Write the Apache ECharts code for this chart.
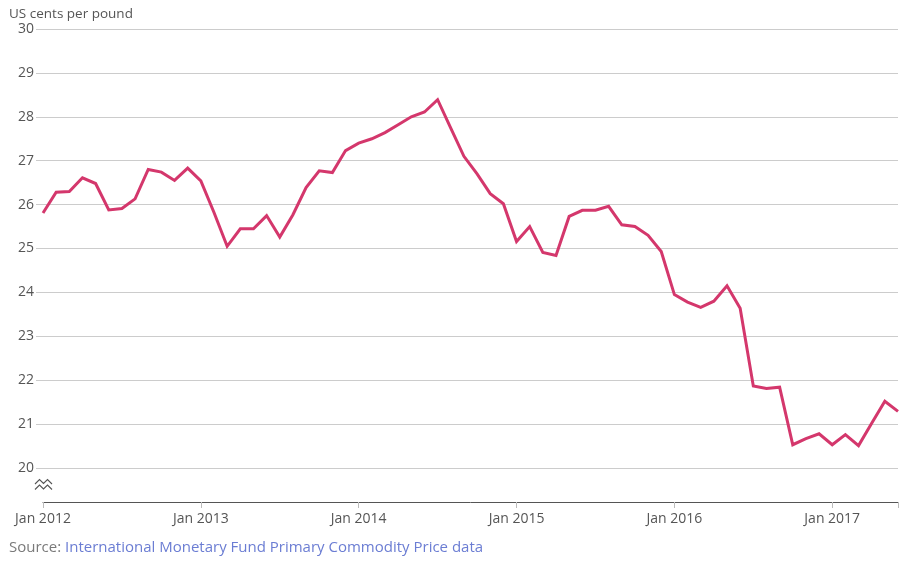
<!DOCTYPE html>
<html>
<head>
<meta charset="utf-8">
<script src="https://cdn.jsdelivr.net/npm/echarts@6/dist/echarts.min.js"></script>
<style>
html,body{margin:0;padding:0;background:#fff;}
#chart{width:915px;height:566px;}
</style>
</head>
<body>
<div id="chart"></div>
<script>
var months = [
  "Jan 2012","Feb 2012","Mar 2012","Apr 2012","May 2012","Jun 2012","Jul 2012","Aug 2012","Sep 2012","Oct 2012","Nov 2012","Dec 2012",
  "Jan 2013","Feb 2013","Mar 2013","Apr 2013","May 2013","Jun 2013","Jul 2013","Aug 2013","Sep 2013","Oct 2013","Nov 2013","Dec 2013",
  "Jan 2014","Feb 2014","Mar 2014","Apr 2014","May 2014","Jun 2014","Jul 2014","Aug 2014","Sep 2014","Oct 2014","Nov 2014","Dec 2014",
  "Jan 2015","Feb 2015","Mar 2015","Apr 2015","May 2015","Jun 2015","Jul 2015","Aug 2015","Sep 2015","Oct 2015","Nov 2015","Dec 2015",
  "Jan 2016","Feb 2016","Mar 2016","Apr 2016","May 2016","Jun 2016","Jul 2016","Aug 2016","Sep 2016","Oct 2016","Nov 2016","Dec 2016",
  "Jan 2017","Feb 2017","Mar 2017","Apr 2017","May 2017","Jun 2017"
];
var prices = [
  25.81, 26.28, 26.30, 26.61, 26.48, 25.88, 25.91, 26.13, 26.80, 26.74, 26.55, 26.83,
  26.54, 25.82, 25.05, 25.45, 25.45, 25.75, 25.26, 25.77, 26.39, 26.77, 26.73, 27.23,
  27.40, 27.50, 27.64, 27.82, 28.00, 28.11, 28.39, 27.74, 27.10, 26.70, 26.25, 26.02,
  25.16, 25.50, 24.91, 24.84, 25.73, 25.87, 25.87, 25.96, 25.54, 25.50, 25.30, 24.93,
  23.95, 23.78, 23.66, 23.80, 24.15, 23.64, 21.87, 21.81, 21.84, 20.53, 20.67, 20.78,
  20.53, 20.76, 20.51, 21.02, 21.52, 21.29
];
var yTicks = {min: 20, max: 30, step: 1};
var unitLabel = "US cents per pound";
var sourcePrefix = "Source: ";
var sourceName = "International Monetary Fund Primary Commodity Price data";

var FONT = "'Open Sans', 'Noto Sans', sans-serif";
var chart = echarts.init(document.getElementById('chart'), null, {renderer: 'canvas'});
var lastIdx = months.length - 1;

chart.setOption({
  animation: false,
  backgroundColor: '#fff',
  textStyle: {fontFamily: FONT},
  title: [
    {text: unitLabel, left: 4, top: 2,
     textStyle: {fontFamily: FONT, fontSize: 13.5, fontWeight: 'normal', color: '#555'}},
    {text: '{a|' + sourcePrefix + '}{b|' + sourceName + '}', left: 4, top: 535,
     textStyle: {fontFamily: FONT, fontSize: 15, fontWeight: 'normal',
       rich: {a: {fontFamily: FONT, fontSize: 15, color: '#7a7a7a'},
              b: {fontFamily: FONT, fontSize: 15, color: '#6b7dd3'}}}}
  ],
  grid: [
    {left: 36, right: 17, top: 29, bottom: 98, containLabel: false},
    {left: 43, right: 17, top: 29, bottom: 98, containLabel: false}
  ],
  xAxis: [
    {gridIndex: 0, type: 'category', data: months, show: false, boundaryGap: false},
    {gridIndex: 1, type: 'category', data: months, boundaryGap: false, offset: 34,
     axisLine: {lineStyle: {color: '#555', width: 1}},
     axisTick: {show: true, length: 6, lineStyle: {color: '#bbb'},
       interval: function (i) { return i % 12 === 0 || i === lastIdx; }},
     axisLabel: {color: '#555', fontSize: 14, fontFamily: FONT, margin: 10,
       interval: function (i) { return i % 12 === 0; }}}
  ],
  yAxis: [
    {gridIndex: 0, type: 'value', min: yTicks.min, max: yTicks.max, interval: yTicks.step,
     axisLine: {show: false}, axisTick: {show: false},
     axisLabel: {color: '#555', fontSize: 14, fontFamily: FONT, margin: 2},
     splitLine: {lineStyle: {color: '#cccccc', width: 1}}},
    {gridIndex: 1, type: 'value', min: yTicks.min, max: yTicks.max, interval: yTicks.step,
     show: false, splitLine: {show: false}}
  ],
  series: [{
    type: 'line', xAxisIndex: 1, yAxisIndex: 1, data: prices,
    showSymbol: false, symbol: 'none',
    lineStyle: {color: '#d4376c', width: 3, join: 'miter'},
    itemStyle: {color: '#d4376c'}
  }],
  graphic: [
    {type: 'polyline', shape: {points: [[35,484],[39.5,479.5],[43.5,483.5],[47.5,479.5],[52,484]]},
     style: {stroke: '#555', lineWidth: 1.1, fill: null}},
    {type: 'polyline', shape: {points: [[35,489.5],[39.5,485],[43.5,489],[47.5,485],[52,489.5]]},
     style: {stroke: '#555', lineWidth: 1.1, fill: null}}
  ]
});
</script>
</body>
</html>
